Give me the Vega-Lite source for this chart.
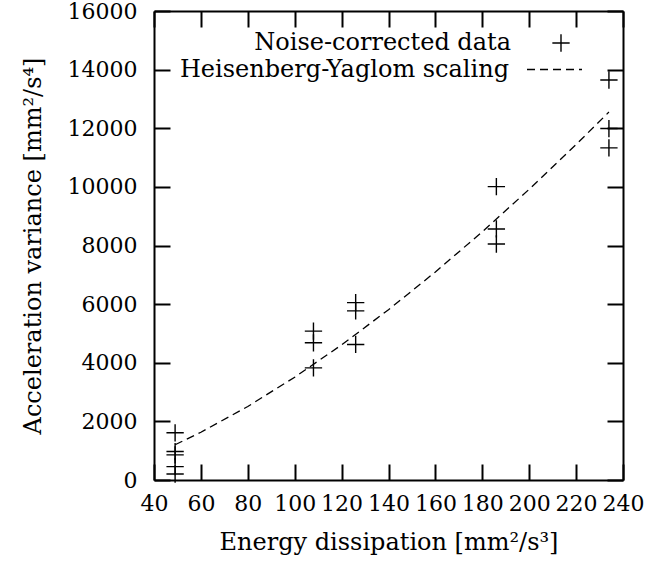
{
  "$schema": "https://vega.github.io/schema/vega-lite/v6.json",
  "width": 469,
  "height": 469,
  "autosize": "none",
  "padding": {"left": 154, "top": 11, "right": 22, "bottom": 92},
  "background": "white",
  "config": {
    "view": {"stroke": null},
    "font": "DejaVu Serif",
    "axis": {
      "domainColor": "black", "domainWidth": 2,
      "tickColor": "black", "tickWidth": 2, "tickSize": -16,
      "labelColor": "black", "labelFont": "DejaVu Serif", "labelFontSize": 22,
      "labelOverlap": false, "labelFlush": false, "labelBound": false,
      "titleColor": "black", "titleFont": "DejaVu Serif", "titleFontSize": 24, "titleFontWeight": "normal",
      "grid": false
    },
    "legend": {
      "labelFont": "DejaVu Serif", "labelFontSize": 24, "labelColor": "black",
      "padding": 0, "labelLimit": 500
    }
  },
  "datasets": {
    "measured": [
      {"dissipation": 49, "variance": 1610},
      {"dissipation": 49, "variance": 970},
      {"dissipation": 49, "variance": 856},
      {"dissipation": 49, "variance": 456},
      {"dissipation": 49, "variance": 205},
      {"dissipation": 108, "variance": 5080},
      {"dissipation": 108, "variance": 4680},
      {"dissipation": 108, "variance": 3825},
      {"dissipation": 126, "variance": 6050},
      {"dissipation": 126, "variance": 5770},
      {"dissipation": 126, "variance": 4625},
      {"dissipation": 186, "variance": 10010},
      {"dissipation": 186, "variance": 8565},
      {"dissipation": 186, "variance": 8050},
      {"dissipation": 234, "variance": 13645},
      {"dissipation": 234, "variance": 11990},
      {"dissipation": 234, "variance": 11330}
    ],
    "scaling": [
      {"dissipation": 49, "variance": 1203},
      {"dissipation": 60, "variance": 1630},
      {"dissipation": 80, "variance": 2509},
      {"dissipation": 100, "variance": 3507},
      {"dissipation": 120, "variance": 4610},
      {"dissipation": 140, "variance": 5809},
      {"dissipation": 160, "variance": 7098},
      {"dissipation": 180, "variance": 8469},
      {"dissipation": 200, "variance": 9919},
      {"dissipation": 220, "variance": 11444},
      {"dissipation": 234, "variance": 12553}
    ]
  },
  "layer": [
    {
      "data": {"name": "measured"},
      "mark": {"type": "point", "filled": false, "stroke": "black", "strokeWidth": 1.4, "size": 300, "opacity": 1},
      "encoding": {
        "x": {"field": "dissipation", "type": "quantitative",
              "scale": {"domain": [40, 240], "nice": false, "zero": false},
              "axis": {"orient": "bottom", "values": [40,60,80,100,120,140,160,180,200,220,240], "format": "d", "labelPadding": 29, "title": "Energy dissipation [mm²/s³]", "titlePadding": 16}},
        "y": {"field": "variance", "type": "quantitative",
              "scale": {"domain": [0, 16000], "nice": false},
              "axis": {"orient": "left", "values": [0,2000,4000,6000,8000,10000,12000,14000,16000], "format": "d", "labelPadding": 33, "title": "Acceleration variance [mm²/s⁴]", "titlePadding": 22}},
        "shape": {"datum": "Noise-corrected data", "type": "nominal",
                  "scale": {"domain": ["Noise-corrected data"], "range": ["M-1,0L1,0M0,-1L0,1"]},
                  "legend": {"title": null, "orient": "none", "legendX": 395, "legendY": 20,
                             "labelAlign": "right", "labelOffset": -62, "symbolSize": 300,
                             "symbolStrokeColor": "black", "symbolFillColor": "transparent", "symbolStrokeWidth": 1.4}}
      }
    },
    {
      "data": {"name": "scaling"},
      "mark": {"type": "line", "color": "black", "strokeWidth": 1.3},
      "encoding": {
        "x": {"field": "dissipation", "type": "quantitative",
              "axis": {"orient": "top", "values": [40,60,80,100,120,140,160,180,200,220,240], "labels": false, "title": null}},
        "y": {"field": "variance", "type": "quantitative",
              "axis": {"orient": "right", "values": [0,2000,4000,6000,8000,10000,12000,14000,16000], "labels": false, "title": null}},
        "strokeDash": {"datum": "Heisenberg-Yaglom scaling", "type": "nominal",
                       "scale": {"domain": ["Heisenberg-Yaglom scaling"], "range": [[8, 5]]},
                       "legend": {"title": null, "orient": "none", "legendX": 372, "legendY": 30,
                                  "labelAlign": "right", "labelOffset": -74, "symbolType": "stroke", "symbolSize": 3025,
                                  "symbolStrokeColor": "black", "symbolStrokeWidth": 1.3}}
      }
    }
  ],
  "resolve": {"axis": {"x": "independent", "y": "independent"}}
}
